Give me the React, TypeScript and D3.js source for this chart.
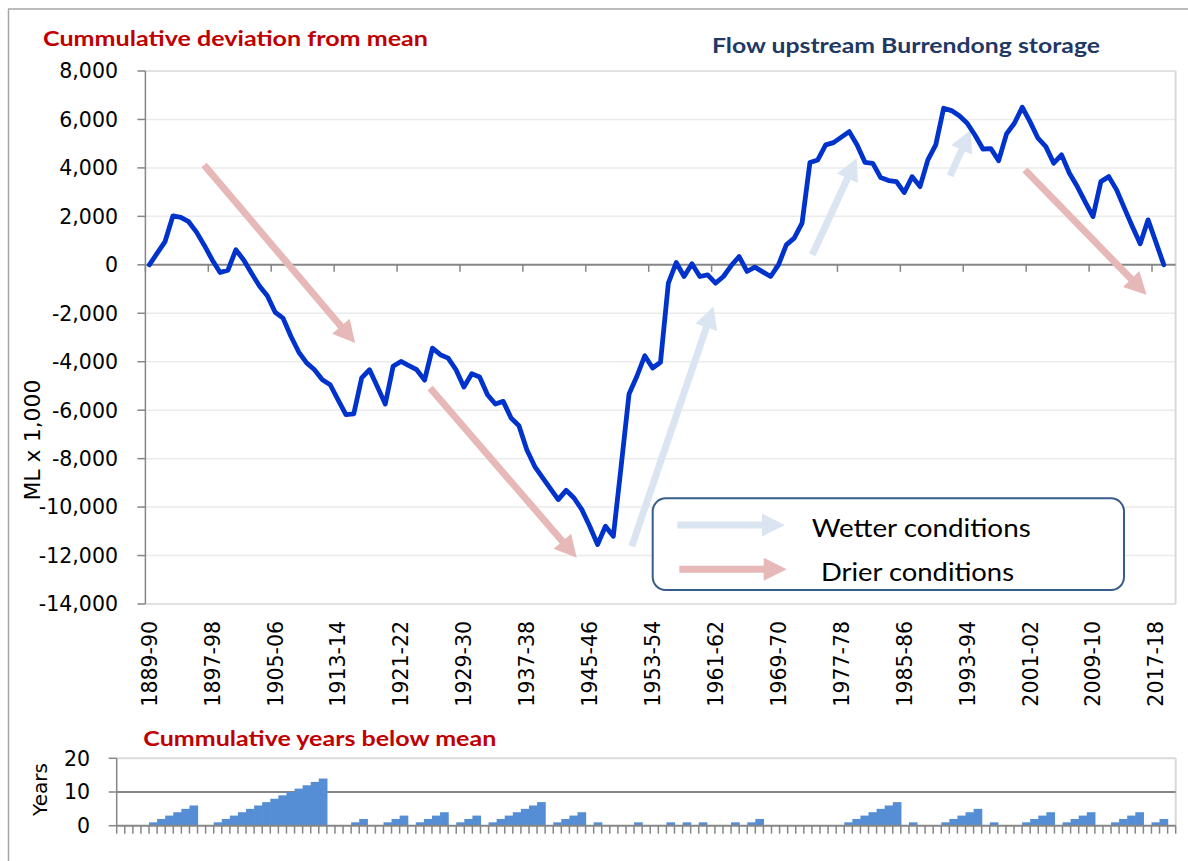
import React from 'react';
import * as d3 from 'd3';

// ---------- data ----------
const startYears: number[] = d3.range(1889, 2020); // 131 water years 1889-90 .. 2019-20
const categories: string[] = startYears.map(y => `${y}-${String((y + 1) % 100).padStart(2, '0')}`);

const tickLabels: string[] = [
  '1889-90', '1897-98', '1905-06', '1913-14', '1921-22', '1929-30', '1937-38', '1945-46',
  '1953-54', '1961-62', '1969-70', '1977-78', '1985-86', '1993-94', '2001-02', '2009-10', '2017-18',
];

const yTicks: number[] = [8000, 6000, 4000, 2000, 0, -2000, -4000, -6000, -8000, -10000, -12000, -14000];

// cumulative deviation from mean (ML x 1,000), 1889-90 .. 2018-19
const cumDeviation: number[] = [
  0, 480, 960, 2020, 1960, 1780, 1350, 800, 200, -320,
  -220, 620, 200, -350, -870, -1280, -1960, -2200, -2950, -3600,
  -4050, -4330, -4740, -4950, -5570, -6180, -6150, -4670, -4330, -5030,
  -5750, -4190, -3990, -4160, -4330, -4760, -3440, -3710, -3850, -4330,
  -5045, -4495, -4633, -5360, -5746, -5636, -6324, -6640, -7630, -8318,
  -8780, -9240, -9690, -9308, -9625, -10104, -10792, -11547, -10792, -11205,
  -8300, -5330, -4600, -3753, -4260, -4020, -755, 95, -482, 41,
  -482, -412, -755, -482, -30, 342, -275, -96, -290, -482,
  0, 825, 1100, 1720, 4219, 4330, 4949, 5044, 5270, 5497,
  4949, 4230, 4190, 3600, 3480, 3435, 2983, 3640, 3229, 4330,
  4949, 6462, 6365, 6150, 5844, 5350, 4780, 4800, 4301, 5402,
  5844, 6504, 5900, 5225, 4879, 4194, 4537, 3781, 3229, 2600,
  1992, 3435, 3640, 3093, 2330, 1580, 865, 1856, 930, 0,
];

// cumulative years below mean, 1889-90 .. 2019-20
const yearsBelowMean: number[] = [
  0, 0, 0, 0, 1, 2, 3, 4, 5, 6, 0, 0, 1, 2, 3, 4, 5, 6, 7, 8, 9, 10, 11, 12, 13, 14,
  0, 0, 0, 1, 2, 0, 0, 1, 2, 3, 0, 1, 2, 3, 4, 0, 1, 2, 3, 0, 1, 2, 3, 4, 5, 6, 7,
  0, 1, 2, 3, 4, 0, 1, 0, 0, 0, 0, 1, 0, 0, 0, 1, 0, 1, 0, 1, 0, 0, 0, 1, 0, 1, 2,
  0, 0, 0, 0, 0, 0, 0, 0, 0, 0, 1, 2, 3, 4, 5, 6, 7, 0, 1, 0, 0, 0, 1, 2, 3, 4, 5,
  0, 1, 0, 0, 0, 1, 2, 3, 4, 0, 1, 2, 3, 4, 0, 0, 1, 2, 3, 4, 0, 1, 2, 0,
];
const yearsTicks: number[] = [0, 10, 20];

// trend arrows, in (category index, value) space
type Trend = { kind: 'wet' | 'dry'; from: [number, number]; to: [number, number] };
const trends: Trend[] = [
  { kind: 'dry', from: [6.96, 4124], to: [26.17, -3229] },
  { kind: 'dry', from: [35.7, -5085], to: [54.35, -12096] },
  { kind: 'dry', from: [111.35, 3918], to: [126.8, -1237] },
  { kind: 'wet', from: [61.35, -11617], to: [71.73, -1720] },
  { kind: 'wet', from: [84.3, 412], to: [89.95, 4400] },
  { kind: 'wet', from: [101.82, 3670], to: [104.45, 5567] },
];

// ---------- styles ----------
const LINE_BLUE = '#0033cc';
const BAR_BLUE = '#558ed5';
const DRY = '#e6b9b8';
const WET = '#dbe5f1';
const AXIS = '#868686';
const GRID = '#ebebeb';
const TICK_FONT = 'DejaVu Sans, sans-serif';
const TITLE_FONT = 'Lato, sans-serif';

const fmt = (v: number) => d3.format(',')(v).replace('\u2212', '-');

function arrowPoints(x1: number, y1: number, x2: number, y2: number, shaft = 7, headLen = 22, headW = 23): string {
  const dx = x2 - x1, dy = y2 - y1;
  const len = Math.hypot(dx, dy);
  const ux = dx / len, uy = dy / len;
  const px = -uy, py = ux;
  const bx = x2 - ux * headLen, by = y2 - uy * headLen;
  const s = shaft / 2, h = headW / 2;
  const pts: [number, number][] = [
    [x1 + px * s, y1 + py * s],
    [bx + px * s, by + py * s],
    [bx + px * h, by + py * h],
    [x2, y2],
    [bx - px * h, by - py * h],
    [bx - px * s, by - py * s],
    [x1 - px * s, y1 - py * s],
  ];
  return pts.map(p => p.join(',')).join(' ');
}

export default function App() {
  // top chart scales
  const xTop = d3.scaleBand<string>().domain(categories).range([145.4, 1175.6]).padding(0);
  const bw = xTop.bandwidth();
  const yTop = d3.scaleLinear().domain([-14000, 8000]).range([604, 71]);
  const xIdx = (i: number) => xTop.range()[0] + (i + 0.5) * xTop.step();
  const plotL = xTop.range()[0], plotR = xTop.range()[1];

  const line = d3.line<number>()
    .x((_, i) => (xTop(categories[i]) as number) + bw / 2)
    .y(d => yTop(d));

  // bottom chart scales
  const xBot = d3.scaleBand<string>().domain(categories).range([116.7, 1175.7]).padding(0);
  const yBot = d3.scaleLinear().domain([0, 20]).range([825.7, 758.3]);
  const botL = xBot.range()[0], botR = xBot.range()[1];

  return (
    <svg width={1188} height={861} viewBox="0 0 1188 861"
      style={{ position: 'absolute', left: 0, top: 0, background: '#fff' }}>
      <rect x={0} y={0} width={1188} height={861} fill="#fff" />
      {/* outer frame */}
      <line x1={8.5} y1={9} x2={8.5} y2={861} stroke="#a6a6a6" strokeWidth={1.5} />
      <line x1={8} y1={9} x2={1188} y2={9} stroke="#a6a6a6" strokeWidth={1.5} />

      {/* ---------- top chart ---------- */}
      <text x={43} y={45.5} fill="#c00000" fontFamily={TITLE_FONT} fontWeight={700} fontSize={21}
        textLength={385} lengthAdjust="spacingAndGlyphs">Cummulative deviation from mean</text>
      <text x={712} y={53} fill="#1f3864" fontFamily={TITLE_FONT} fontWeight={700} fontSize={20}
        textLength={388} lengthAdjust="spacingAndGlyphs">Flow upstream Burrendong storage</text>

      {/* gridlines */}
      {yTicks.filter(v => v !== 0).map(v => (
        <line key={'g' + v} x1={plotL} x2={plotR} y1={yTop(v)} y2={yTop(v)}
          stroke={v === 8000 || v === -14000 ? '#d9d9d9' : GRID} strokeWidth={1.5} />
      ))}
      <line x1={plotR} x2={plotR} y1={yTop(8000)} y2={yTop(-14000)} stroke="#d9d9d9" strokeWidth={2} />

      {/* y axis */}
      <line x1={plotL} x2={plotL} y1={yTop(8000)} y2={yTop(-14000)} stroke={AXIS} strokeWidth={1.5} />
      {yTicks.map(v => (
        <g key={'yt' + v}>
          <line x1={plotL - 8} x2={plotL} y1={yTop(v)} y2={yTop(v)} stroke={AXIS} strokeWidth={1.5} />
          <text x={118} y={yTop(v)} dy="0.36em" textAnchor="end" fontFamily={TICK_FONT} fontSize={20.5} fill="#000">
            {fmt(v)}
          </text>
        </g>
      ))}
      <text transform={`translate(32,440) rotate(-90)`} textAnchor="middle" dy="0.36em"
        fontFamily={TICK_FONT} fontSize={22} fill="#000">ML x 1,000</text>

      {/* zero axis with category ticks */}
      <line x1={plotL} x2={plotR} y1={yTop(0)} y2={yTop(0)} stroke={AXIS} strokeWidth={2} />
      {tickLabels.map(lab => {
        const xt = xTop(lab) as number;
        return <line key={'xt' + lab} x1={xt} x2={xt} y1={yTop(0)} y2={yTop(0) + 7} stroke={AXIS} strokeWidth={1.5} />;
      })}
      {tickLabels.map(lab => {
        const xc = (xTop(lab) as number) + bw / 2;
        return (
          <text key={'xl' + lab} transform={`translate(${xc},621) rotate(-90)`} textAnchor="end" dy="0.36em"
            fontFamily={TICK_FONT} fontSize={20.5} fill="#000">{lab}</text>
        );
      })}

      {/* trend arrows */}
      {trends.map((t, i) => (
        <polygon key={'tr' + i}
          points={arrowPoints(xIdx(t.from[0]), yTop(t.from[1]), xIdx(t.to[0]), yTop(t.to[1]))}
          fill={t.kind === 'dry' ? DRY : WET} />
      ))}

      {/* data line */}
      <path d={line(cumDeviation) as string} fill="none" stroke={LINE_BLUE} strokeWidth={4.8}
        strokeLinejoin="round" strokeLinecap="round" />

      {/* legend */}
      <rect x={652.7} y={498.3} width={471.3} height={91.7} rx={13} ry={13} fill="#fff" stroke="#385d8a" strokeWidth={2} />
      <polygon points={arrowPoints(677.3, 525, 785, 525, 7, 23, 23)} fill={WET} />
      <polygon points={arrowPoints(679.3, 569.3, 786.7, 569.3, 7, 23, 23)} fill={DRY} />
      <text x={811.7} y={536.7} fontFamily={TITLE_FONT} fontSize={25} fill="#000"
        textLength={219} lengthAdjust="spacingAndGlyphs">Wetter conditions</text>
      <text x={821} y={581} fontFamily={TITLE_FONT} fontSize={25} fill="#000"
        textLength={193} lengthAdjust="spacingAndGlyphs">Drier conditions</text>

      {/* ---------- bottom chart ---------- */}
      <text x={143.3} y={746} fill="#c00000" fontFamily={TITLE_FONT} fontWeight={700} fontSize={20}
        textLength={353} lengthAdjust="spacingAndGlyphs">Cummulative years below mean</text>

      <line x1={botL} x2={botR} y1={yBot(20)} y2={yBot(20)} stroke="#d9d9d9" strokeWidth={2} />
      <line x1={botR} x2={botR} y1={yBot(20)} y2={yBot(0)} stroke="#d9d9d9" strokeWidth={2} />
      <line x1={botL} x2={botR} y1={yBot(10)} y2={yBot(10)} stroke={AXIS} strokeWidth={2} />

      {yearsBelowMean.map((v, i) => v > 0 ? (
        <rect key={'b' + i} x={xBot(categories[i]) as number} y={yBot(v)}
          width={xBot.bandwidth() + 0.6} height={yBot(0) - yBot(v)} fill={BAR_BLUE} />
      ) : null)}

      <line x1={botL} x2={botL} y1={yBot(20)} y2={yBot(0)} stroke={AXIS} strokeWidth={1.5} />
      {yearsTicks.map(v => (
        <g key={'byt' + v}>
          <line x1={botL - 8} x2={botL} y1={yBot(v)} y2={yBot(v)} stroke={AXIS} strokeWidth={1.5} />
          <text x={90} y={yBot(v)} dy="0.36em" textAnchor="end" fontFamily={TICK_FONT} fontSize={20.5} fill="#000">{v}</text>
        </g>
      ))}
      <text transform={`translate(40,789.5) rotate(-90)`} textAnchor="middle" dy="0.36em"
        fontFamily={TICK_FONT} fontSize={20} fill="#000">Years</text>

      <line x1={botL} x2={botR} y1={yBot(0)} y2={yBot(0)} stroke={AXIS} strokeWidth={2} />
      {categories.map(c => {
        const xt = xBot(c) as number;
        return <line key={'bt' + c} x1={xt} x2={xt} y1={yBot(0)} y2={yBot(0) + 8} stroke={AXIS} strokeWidth={1.5} />;
      })}
      <line x1={botR} x2={botR} y1={yBot(0)} y2={yBot(0) + 8} stroke={AXIS} strokeWidth={1.5} />
    </svg>
  );
}
